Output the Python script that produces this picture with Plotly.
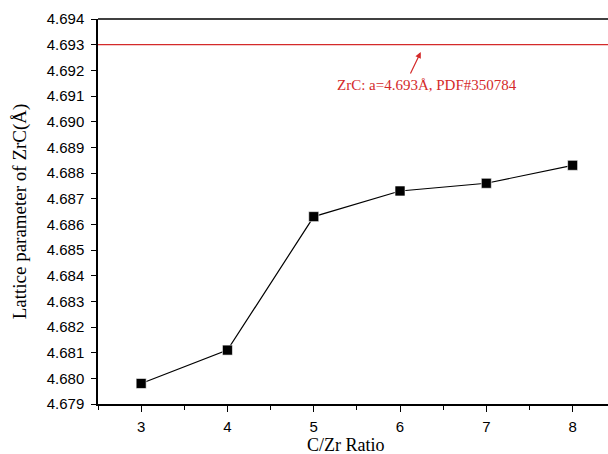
import plotly.graph_objects as go

ratio = [3, 4, 5, 6, 7, 8]
lattice = [4.6798, 4.6811, 4.6863, 4.6873, 4.6876, 4.6883]
ref_value = 4.693
ref_label = "ZrC: a=4.693Å, PDF#350784"
x_title = "C/Zr Ratio"
y_title = "Lattice parameter of ZrC(Å)"
y_ticks = [4.679 + 0.001 * i for i in range(16)]
y_tick_text = ["%.3f" % v for v in y_ticks]
x_range = [2.5, 8.41]

fig = go.Figure()
fig.add_trace(go.Scatter(
    x=x_range, y=[ref_value, ref_value], mode="lines",
    line=dict(color="#d42a2a", width=1.2), showlegend=False, hoverinfo="skip"))
fig.add_trace(go.Scatter(
    x=ratio, y=lattice, mode="lines+markers",
    line=dict(color="black", width=1.2),
    marker=dict(symbol="square", size=10, color="black",
                line=dict(color="white", width=0.6)),
    showlegend=False))

fig.add_annotation(x=6.24, y=4.69271, ax=-11, ay=23, xref="x", yref="y",
                   text="", showarrow=True, arrowhead=2, arrowsize=1,
                   arrowwidth=1.2, arrowcolor="#d42a2a")
fig.add_annotation(x=6.31, y=4.69143, xref="x", yref="y", text=ref_label,
                   showarrow=False,
                   font=dict(family="Liberation Serif", size=15, color="#d42a2a"))
fig.add_annotation(x=0.487, y=0, xref="paper", yref="paper", yanchor="middle",
                   yshift=-41, text=x_title, showarrow=False, borderpad=0,
                   font=dict(family="Liberation Serif", size=18, color="black"))

fig.add_shape(type="line", xref="paper", yref="paper", x0=0, x1=1, y0=1, y1=1,
              line=dict(color="black", width=1.5))

fig.update_layout(
    width=608, height=454,
    margin=dict(l=98, r=0, t=19, b=50),
    paper_bgcolor="white", plot_bgcolor="white",
    font=dict(family="Liberation Sans", size=15, color="black"),
)
fig.update_xaxes(
    range=x_range, tickvals=ratio, showgrid=False, zeroline=False,
    showline=True, linecolor="black", linewidth=1.5, automargin=False,
    ticks="outside", ticklen=6, tickwidth=1.2, tickcolor="black",
    ticklabelstandoff=2,
    minor=dict(dtick=0.5, tick0=2.5, ticks="outside", ticklen=4, tickwidth=1.2, tickcolor="black"),
)
fig.update_yaxes(
    range=[4.679, 4.694], tickvals=y_ticks, ticktext=y_tick_text,
    showgrid=False, zeroline=False, automargin=False,
    showline=True, linecolor="black", linewidth=1.5,
    ticks="outside", ticklen=5, tickwidth=1.2, tickcolor="black",
    ticklabelstandoff=4,
    title=dict(text=y_title, font=dict(family="Liberation Serif", size=19)),
)

fig.write_html("out.html")
